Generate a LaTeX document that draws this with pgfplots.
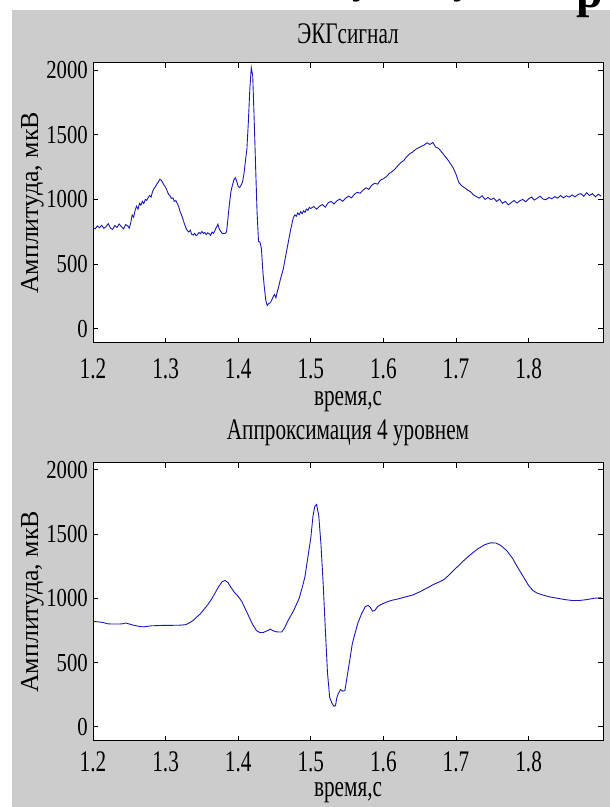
\documentclass[border=0pt]{standalone}
\usepackage{fontspec}
\setmainfont{Liberation Serif}[FakeStretch=0.71]
\newfontfamily\ytfam{Liberation Serif}[FakeStretch=0.8]
\newfontfamily\ylfam{Liberation Serif}
\newfontfamily\topfam{Liberation Serif}
\usepackage{pgfplots}
\pgfplotsset{compat=1.18}
\definecolor{figgray}{RGB}{204,204,204}
\definecolor{ecgblue}{RGB}{25,25,185}
\newcommand{\ttfont}{\fontsize{30}{34}\selectfont}
\newcommand{\xtfont}{\fontsize{30}{34}\selectfont}
\newcommand{\ytfont}{\ytfam\fontsize{26}{30}\selectfont}
\newcommand{\ylfont}{\ylfam\fontsize{26}{30}\selectfont}
\pgfplotsset{
  ecg/.style={
    scale only axis, width=510bp,
    xmin=1.2, xmax=1.9025, ymin=-110, ymax=2055,
    xtick={1.2,1.3,1.4,1.5,1.6,1.7,1.8},
    xticklabels={1.2,1.3,1.4,1.5,1.6,1.7,1.8},
    ytick={0,500,1000,1500,2000},
    yticklabels={0,500,1000,1500,2000},
    tick align=inside, major tick length=5bp,
    tick style={black, line width=0.8bp},
    axis line style={black, line width=1bp},
    axis background/.style={fill=white},
    yticklabel style={font=\ytfont, anchor=east, inner sep=0pt, xshift=-5bp},
    xticklabel style={font=\xtfont, anchor=base, inner sep=0pt},
    title style={font=\ttfont, anchor=base, inner sep=0pt},
    xlabel style={font=\ttfont, anchor=base, inner sep=0pt},
    every axis y label/.style={at={(axis description cs:-0.1078,0.5)}, rotate=90, anchor=base, font=\ylfont, inner sep=0pt},
    ylabel={Амплитуда, мкВ},
    xlabel={время,с},
  }
}
\begin{document}
\begin{tikzpicture}[x=1bp,y=1bp]
\useasboundingbox (0,0) rectangle (610,807);
\fill[white] (0,0) rectangle (610,807);
\fill[figgray] (12,0) rectangle (610,797);
\begin{scope}
\clip (0,0) rectangle (610,807);
\node[font=\topfam\bfseries\fontsize{48}{52}\selectfont, anchor=base, inner sep=0pt] at (590,799) {р};
\node[font=\topfam\bfseries\fontsize{40}{44}\selectfont, anchor=base, inner sep=0pt] at (362,813) {у};
\node[font=\topfam\bfseries\fontsize{40}{44}\selectfont, anchor=base, inner sep=0pt] at (463,813) {у};
\end{scope}

\begin{axis}[ecg, at={(93bp,464bp)}, anchor=south west, height=280bp,
  title={ЭКГсигнал},
  title style={at={(axis description cs:0.5,1.05)}},
  xticklabel style={yshift=-36bp},
  xlabel style={at={(axis description cs:0.5,-0.225)}},
]
\addplot[ecgblue, line width=0.9bp] coordinates {
(1.200,780) (1.203,772) (1.206,795) (1.209,781) (1.212,800) (1.215,776) (1.218,790) (1.221,812) (1.224,779) (1.227,768)
(1.230,798) (1.233,783) (1.236,810) (1.239,790) (1.242,772) (1.245,805) (1.248,795) (1.250,778) (1.252,820) (1.254,880)
(1.256,862) (1.258,915) (1.260,948) (1.262,925) (1.264,970) (1.266,955) (1.268,985) (1.270,968) (1.272,1000) (1.274,992)
(1.276,1015) (1.278,1030) (1.280,1018) (1.282,1060) (1.284,1085) (1.286,1098) (1.288,1120) (1.290,1135) (1.292,1155) (1.294,1150)
(1.296,1128) (1.298,1110) (1.300,1095) (1.302,1068) (1.304,1040) (1.306,1030) (1.308,1008) (1.310,1012) (1.312,985) (1.314,992)
(1.316,970) (1.318,945) (1.320,905) (1.322,880) (1.324,845) (1.326,810) (1.328,780) (1.330,758) (1.332,748) (1.334,762)
(1.336,730) (1.338,725) (1.340,738) (1.342,720) (1.344,728) (1.346,745) (1.348,735) (1.350,752) (1.352,738) (1.354,745)
(1.356,728) (1.358,742) (1.360,735) (1.362,722) (1.364,748) (1.366,738) (1.368,760) (1.370,785) (1.372,808) (1.374,770)
(1.376,752) (1.378,738) (1.380,735) (1.382,738) (1.384,750) (1.386,860) (1.388,970) (1.390,1060) (1.392,1110) (1.394,1150)
(1.396,1168) (1.398,1140) (1.400,1100) (1.402,1092) (1.404,1110) (1.406,1135) (1.408,1200) (1.410,1300) (1.412,1390) (1.414,1600)
(1.416,1850) (1.418,2020) (1.420,1955) (1.422,1620) (1.424,1250) (1.426,900) (1.428,676) (1.430,670) (1.432,620) (1.434,440)
(1.436,320) (1.438,220) (1.440,180) (1.442,195) (1.444,200) (1.446,220) (1.448,245) (1.450,265) (1.452,240) (1.454,290)
(1.456,330) (1.458,380) (1.460,420) (1.462,460) (1.464,520) (1.466,580) (1.468,640) (1.470,700) (1.472,760) (1.474,810)
(1.476,860) (1.478,880) (1.480,870) (1.482,895) (1.484,882) (1.486,905) (1.488,890) (1.490,912) (1.492,900) (1.494,925)
(1.496,915) (1.498,938) (1.500,930) (1.504,945) (1.508,925) (1.512,948) (1.516,960) (1.520,940) (1.524,975) (1.528,985)
(1.532,965) (1.536,990) (1.540,1002) (1.544,985) (1.548,1010) (1.552,1025) (1.556,1012) (1.560,1040) (1.564,1055) (1.568,1048)
(1.572,1072) (1.576,1090) (1.580,1078) (1.584,1110) (1.588,1125) (1.592,1118) (1.596,1150) (1.600,1160) (1.604,1175) (1.608,1200)
(1.612,1215) (1.616,1235) (1.620,1262) (1.624,1285) (1.628,1300) (1.632,1330) (1.636,1352) (1.640,1365) (1.644,1385) (1.648,1398)
(1.652,1410) (1.656,1420) (1.660,1438) (1.664,1425) (1.668,1440) (1.672,1405) (1.676,1395) (1.680,1368) (1.684,1340) (1.688,1312)
(1.692,1280) (1.696,1245) (1.700,1195) (1.704,1130) (1.708,1105) (1.712,1090) (1.716,1072) (1.720,1060) (1.724,1035) (1.728,1022)
(1.732,1010) (1.736,1028) (1.740,1000) (1.744,1015) (1.748,998) (1.752,1010) (1.756,985) (1.760,1002) (1.764,970) (1.768,985)
(1.772,958) (1.776,975) (1.780,992) (1.784,972) (1.788,990) (1.792,1000) (1.796,982) (1.800,1005) (1.804,1018) (1.808,995)
(1.812,1010) (1.816,1025) (1.820,1002) (1.824,998) (1.828,1015) (1.832,1005) (1.836,1022) (1.840,1010) (1.844,1030) (1.848,1012)
(1.852,1028) (1.856,1018) (1.860,1035) (1.864,1020) (1.868,1038) (1.872,1045) (1.876,1025) (1.880,1052) (1.884,1030) (1.888,1045)
(1.892,1020) (1.896,1040) (1.900,1025)
};
\end{axis}

\begin{axis}[ecg, at={(93bp,66bp)}, anchor=south west, height=278.3bp,
  title={Аппроксимация 4 уровнем},
  title style={at={(axis description cs:0.5,1.0636)}},
  xticklabel style={yshift=-31bp},
  xlabel style={at={(axis description cs:0.5,-0.201)}},
]
\addplot[ecgblue, line width=0.9bp] coordinates {
(1.200,820) (1.205,818) (1.210,815) (1.215,810) (1.220,802) (1.225,800) (1.230,800) (1.235,800) (1.240,801) (1.245,808)
(1.250,800) (1.255,792) (1.260,786) (1.265,780) (1.270,778) (1.275,782) (1.280,786) (1.290,788) (1.300,790) (1.310,790)
(1.320,791) (1.328,795) (1.333,810) (1.338,828) (1.343,855) (1.348,880) (1.353,915) (1.358,950) (1.363,990) (1.368,1040)
(1.373,1090) (1.378,1130) (1.382,1138) (1.386,1122) (1.390,1085) (1.395,1045) (1.400,1015) (1.405,975) (1.410,915) (1.415,855)
(1.420,795) (1.425,750) (1.430,733) (1.435,735) (1.440,748) (1.444,760) (1.448,748) (1.452,740) (1.456,738) (1.460,738)
(1.464,770) (1.468,820) (1.472,860) (1.476,900) (1.480,950) (1.484,1000) (1.488,1080) (1.492,1170) (1.496,1320) (1.500,1470)
(1.503,1640) (1.5055,1715) (1.508,1730) (1.511,1640) (1.514,1420) (1.517,1120) (1.520,760) (1.523,420) (1.526,230) (1.529,185)
(1.532,160) (1.534,165) (1.536,230) (1.538,260) (1.541,290) (1.544,278) (1.547,282) (1.550,390) (1.554,530) (1.557,640)
(1.561,730) (1.565,810) (1.570,880) (1.575,935) (1.579,945) (1.582,930) (1.585,900) (1.588,905) (1.592,935) (1.596,950)
(1.600,960) (1.606,975) (1.612,985) (1.620,995) (1.630,1010) (1.640,1025) (1.648,1045) (1.655,1065) (1.662,1085) (1.668,1105)
(1.676,1125) (1.684,1148) (1.692,1190) (1.700,1235) (1.710,1290) (1.720,1340) (1.730,1385) (1.740,1418) (1.748,1432) (1.755,1430)
(1.762,1410) (1.770,1370) (1.778,1310) (1.785,1240) (1.792,1175) (1.800,1100) (1.806,1060) (1.812,1040) (1.820,1025) (1.830,1010)
(1.840,1000) (1.850,990) (1.860,983) (1.870,983) (1.880,990) (1.890,1000) (1.900,1005)
};
\end{axis}
\end{tikzpicture}
\end{document}
